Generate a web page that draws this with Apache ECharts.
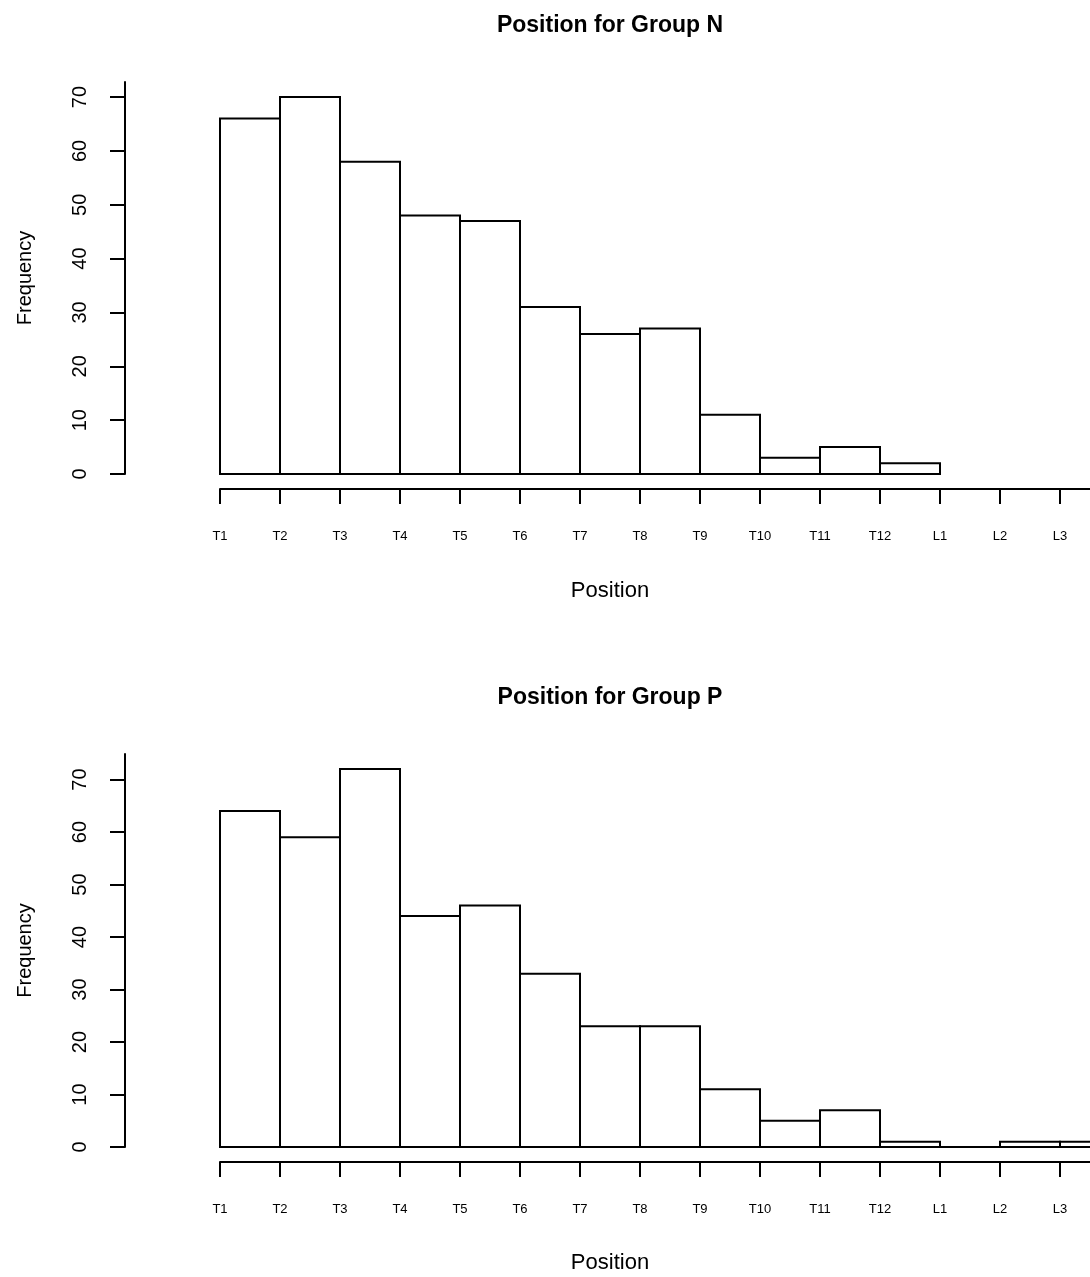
<!DOCTYPE html>
<html>
<head>
<meta charset="utf-8">
<script src="https://cdn.jsdelivr.net/npm/echarts@6/dist/echarts.min.js"></script>
<style>html,body{margin:0;padding:0;background:#fff}#c{width:1090px;height:1277px}</style>
</head>
<body>
<div id="c"></div>
<script>
var positionLabels = ['T1','T2','T3','T4','T5','T6','T7','T8','T9','T10','T11','T12','L1','L2','L3'];
var countsN = [66, 70, 58, 48, 47, 31, 26, 27, 11, 3, 5, 2];
var countsP = [64, 59, 72, 44, 46, 33, 23, 23, 11, 5, 7, 1, 0, 1, 1];
var yTicks = [0, 10, 20, 30, 40, 50, 60, 70];
var titles = ['Position for Group N', 'Position for Group P'];

var FONT = '"Liberation Sans", Arial, Helvetica, sans-serif';
var xTickVals = positionLabels.map(function (_, i) { return i; });
var yMax = [72.8, 74.88];

// grids 0,1: plot areas (bars + x axis); grids 2,3: visible y axes placed further left
var plotTop = [82, 754], plotH = [392, 393];

function xAxisFor(gi) {
  return {
    type: 'value', gridIndex: gi, min: 0, max: 14.5, offset: 15,
    axisLine: { show: true, onZero: false, lineStyle: { color: '#000', width: 2 } },
    axisTick: { show: true, length: 15, customValues: xTickVals, lineStyle: { color: '#000', width: 2 } },
    axisLabel: { customValues: xTickVals, margin: 41, fontFamily: FONT, fontSize: 13, color: '#000',
      formatter: function (v) { return positionLabels[Math.round(v)] || ''; } },
    splitLine: { show: false }
  };
}
function hiddenX(gi) {
  return { type: 'value', gridIndex: gi, min: 0, max: 1, show: false, splitLine: { show: false } };
}
function hiddenY(gi, maxv) {
  return { type: 'value', gridIndex: gi, min: 0, max: maxv, show: false, splitLine: { show: false } };
}
function yAxisFor(gi, maxv) {
  return {
    type: 'value', gridIndex: gi, min: 0, max: maxv,
    name: 'Frequency', nameLocation: 'middle', nameRotate: 90, nameGap: 90,
    nameTextStyle: { fontFamily: FONT, fontSize: 20, color: '#000' },
    axisLine: { show: true, onZero: false, lineStyle: { color: '#000', width: 2 } },
    axisTick: { show: true, length: 15, customValues: yTicks, lineStyle: { color: '#000', width: 2 } },
    axisLabel: { customValues: yTicks, rotate: 90, margin: 35, fontFamily: FONT, fontSize: 20, color: '#000' },
    splitLine: { show: false }
  };
}
function histSeries(gi, data) {
  return {
    type: 'custom', xAxisIndex: gi, yAxisIndex: gi,
    data: data.map(function (v, i) { return [i, v]; }),
    renderItem: function (params, api) {
      var i = api.value(0), v = api.value(1);
      var p0 = api.coord([i, 0]);
      var p1 = api.coord([i + 1, v]);
      return {
        type: 'rect',
        shape: { x: p0[0], y: p1[1], width: p1[0] - p0[0], height: p0[1] - p1[1] },
        style: { fill: '#fff', stroke: '#000', lineWidth: 2 }
      };
    },
    clip: false, silent: true, animation: false
  };
}

var chart = echarts.init(document.getElementById('c'));
chart.setOption({
  animation: false,
  backgroundColor: '#fff',
  grid: [
    { left: 220, width: 870, top: plotTop[0], height: plotH[0], outerBoundsMode: 'none', containLabel: false },
    { left: 220, width: 870, top: plotTop[1], height: plotH[1], outerBoundsMode: 'none', containLabel: false },
    { left: 125, width: 10, top: plotTop[0], height: plotH[0], outerBoundsMode: 'none', containLabel: false },
    { left: 125, width: 10, top: plotTop[1], height: plotH[1], outerBoundsMode: 'none', containLabel: false }
  ],
  xAxis: [xAxisFor(0), xAxisFor(1), hiddenX(2), hiddenX(3)],
  yAxis: [hiddenY(0, yMax[0]), hiddenY(1, yMax[1]), yAxisFor(2, yMax[0]), yAxisFor(3, yMax[1])],
  graphic: [
    { type: 'text', x: 610, y: 26, style: { text: titles[0], font: 'bold 23px ' + FONT, fill: '#000', align: 'center', verticalAlign: 'middle' } },
    { type: 'text', x: 610, y: 698, style: { text: titles[1], font: 'bold 23px ' + FONT, fill: '#000', align: 'center', verticalAlign: 'middle' } },
    { type: 'text', x: 610, y: 591, style: { text: 'Position', font: '22px ' + FONT, fill: '#000', align: 'center', verticalAlign: 'middle' } },
    { type: 'text', x: 610, y: 1263, style: { text: 'Position', font: '22px ' + FONT, fill: '#000', align: 'center', verticalAlign: 'middle' } }
  ],
  series: [histSeries(0, countsN), histSeries(1, countsP)]
});
</script>
</body>
</html>
